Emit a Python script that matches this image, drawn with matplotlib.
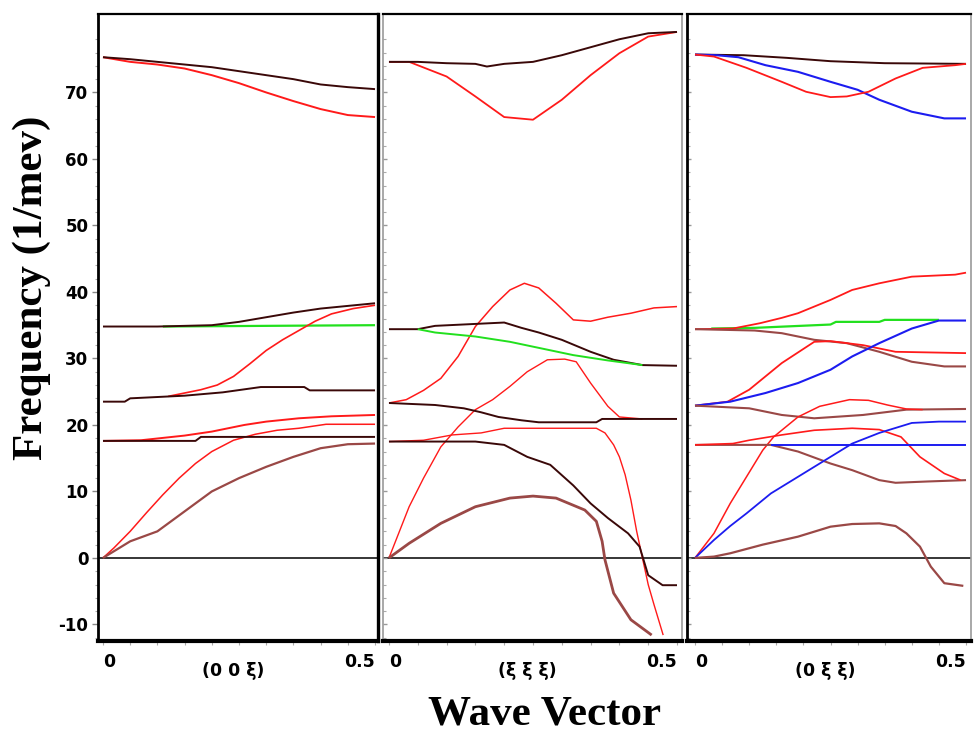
"""Phonon dispersion curves along three symmetry directions."""

import matplotlib

matplotlib.use("Agg")
import matplotlib.pyplot as plt
from matplotlib.transforms import blended_transform_factory

RED = "#ff1a1a"
DARK = "#3a0808"
BROWN = "#9a4846"
GREEN = "#22e01e"
BLUE = "#1c1cf0"

# ---- panel 1: (0 0 xi) ----
p1_top_dark_x = [0, 0.05, 0.1, 0.15, 0.2, 0.25, 0.3, 0.35, 0.4, 0.45, 0.5]
p1_top_dark_y = [75.3, 75.0, 74.6, 74.2, 73.8, 73.2, 72.6, 72.0, 71.2, 70.8, 70.5]
p1_top_red_x = [0, 0.05, 0.1, 0.15, 0.2, 0.25, 0.3, 0.35, 0.4, 0.45, 0.5]
p1_top_red_y = [75.3, 74.6, 74.2, 73.6, 72.6, 71.4, 70.0, 68.7, 67.5, 66.6, 66.3]
p1_green_x = [0.11, 0.3, 0.5]
p1_green_y = [34.8, 34.9, 35.0]
p1_dark35_x = [0, 0.1, 0.2, 0.25, 0.3, 0.35, 0.4, 0.45, 0.5]
p1_dark35_y = [34.8, 34.8, 35.0, 35.5, 36.2, 36.9, 37.5, 37.9, 38.3]
p1_red38_x = [0.12, 0.15, 0.18, 0.21, 0.24, 0.27, 0.3, 0.33, 0.36, 0.39, 0.42, 0.46, 0.5]
p1_red38_y = [24.3, 24.8, 25.3, 26.0, 27.3, 29.2, 31.2, 32.8, 34.2, 35.6, 36.7, 37.5, 38.0]
p1_dark25_x = [0, 0.04, 0.05, 0.15, 0.22, 0.29, 0.37, 0.38, 0.5]
p1_dark25_y = [23.5, 23.5, 24.0, 24.4, 24.9, 25.7, 25.7, 25.2, 25.2]
p1_red21_x = [0, 0.07, 0.15, 0.2, 0.26, 0.3, 0.36, 0.42, 0.5]
p1_red21_y = [17.6, 17.7, 18.4, 19.0, 20.0, 20.5, 21.0, 21.3, 21.5]
p1_red_ac_x = [0, 0.02, 0.05, 0.08, 0.11, 0.14, 0.17, 0.2, 0.24, 0.28, 0.32, 0.36, 0.41, 0.45, 0.5]
p1_red_ac_y = [0, 1.5, 4.0, 6.8, 9.5, 12.0, 14.2, 16.0, 17.7, 18.6, 19.2, 19.5, 20.1, 20.1, 20.1]
p1_dark18_x = [0, 0.17, 0.18, 0.5]
p1_dark18_y = [17.6, 17.6, 18.2, 18.2]
p1_brown_ac_x = [0, 0.05, 0.1, 0.15, 0.2, 0.25, 0.3, 0.35, 0.4, 0.45, 0.5]
p1_brown_ac_y = [0, 2.5, 4.0, 7.0, 10.0, 12.0, 13.7, 15.2, 16.5, 17.1, 17.2]

# ---- panel 2: (xi xi xi) ----
p2_top_dark_x = [0, 0.05, 0.1, 0.15, 0.17, 0.2, 0.25, 0.3, 0.35, 0.4, 0.45, 0.5]
p2_top_dark_y = [74.6, 74.6, 74.4, 74.3, 73.9, 74.3, 74.6, 75.6, 76.8, 78.0, 78.9, 79.1]
p2_top_red_x = [0, 0.035, 0.1, 0.15, 0.2, 0.25, 0.3, 0.35, 0.4, 0.45, 0.5]
p2_top_red_y = [74.6, 74.6, 72.4, 69.4, 66.3, 65.9, 68.9, 72.6, 75.9, 78.4, 79.1]
p2_red41_x = [0, 0.03, 0.06, 0.09, 0.12, 0.15, 0.18, 0.21, 0.235, 0.26, 0.29, 0.32, 0.35, 0.38, 0.42, 0.46, 0.5]
p2_red41_y = [23.3, 23.8, 25.2, 27.0, 30.3, 34.8, 37.8, 40.3, 41.3, 40.6, 38.3, 35.8, 35.6, 36.2, 36.8, 37.6, 37.8]
p2_dark34_x = [0, 0.05, 0.08, 0.2, 0.23, 0.26, 0.3, 0.35, 0.39, 0.44, 0.5]
p2_dark34_y = [34.4, 34.4, 34.9, 35.4, 34.6, 33.9, 32.8, 31.0, 29.8, 29.0, 28.9]
p2_green_x = [0.05, 0.08, 0.15, 0.21, 0.265, 0.32, 0.38, 0.44]
p2_green_y = [34.4, 33.9, 33.3, 32.5, 31.5, 30.5, 29.7, 29.0]
p2_red30_x = [0, 0.035, 0.06, 0.09, 0.12, 0.15, 0.18, 0.21, 0.24, 0.275, 0.305, 0.325, 0.35, 0.38, 0.40, 0.44]
p2_red30_y = [0, 7.7, 12.0, 16.7, 19.7, 22.3, 23.8, 25.8, 28.0, 29.8, 29.9, 29.5, 26.3, 22.8, 21.2, 20.9]
p2_red19_x = [0, 0.06, 0.11, 0.16, 0.2, 0.25, 0.3, 0.36, 0.375, 0.39, 0.40, 0.41, 0.42, 0.43, 0.44, 0.45, 0.46, 0.476]
p2_red19_y = [17.5, 17.7, 18.5, 18.8, 19.5, 19.5, 19.5, 19.5, 18.8, 17.0, 15.2, 12.5, 8.7, 4.0, 0, -4.0, -7.0, -11.6]
p2_dark21_x = [0, 0.08, 0.13, 0.16, 0.19, 0.23, 0.26, 0.36, 0.37, 0.5]
p2_dark21_y = [23.3, 23.0, 22.5, 21.9, 21.2, 20.7, 20.4, 20.4, 20.9, 20.9]
p2_brown17_x = [0, 0.15, 0.2, 0.24, 0.28, 0.32, 0.35, 0.38, 0.415, 0.435, 0.45, 0.475, 0.5]
p2_brown17_y = [17.5, 17.5, 17.0, 15.2, 14.0, 10.9, 8.2, 6.0, 3.7, 1.7, -2.6, -4.1, -4.1]
p2_brown_ac_x = [0, 0.035, 0.09, 0.15, 0.21, 0.25, 0.29, 0.34, 0.36, 0.37, 0.375, 0.39, 0.42, 0.456]
p2_brown_ac_y = [0, 2.2, 5.2, 7.7, 9.0, 9.3, 9.0, 7.2, 5.5, 2.5, -0.3, -5.3, -9.3, -11.6]

# ---- panel 3: (0 xi xi) ----
p3_top_dark_x = [0, 0.09, 0.17, 0.25, 0.35, 0.5]
p3_top_dark_y = [75.7, 75.6, 75.2, 74.7, 74.4, 74.3]
p3_top_blue_x = [0, 0.04, 0.08, 0.13, 0.19, 0.25, 0.3, 0.34, 0.4, 0.46, 0.5]
p3_top_blue_y = [75.7, 75.6, 75.3, 74.1, 73.1, 71.6, 70.4, 68.9, 67.1, 66.1, 66.1]
p3_top_red_x = [0, 0.035, 0.095, 0.16, 0.205, 0.25, 0.28, 0.32, 0.37, 0.42, 0.48, 0.5]
p3_top_red_y = [75.7, 75.4, 73.7, 71.6, 70.1, 69.3, 69.4, 70.1, 72.1, 73.7, 74.1, 74.3]
p3_red42_x = [0, 0.07, 0.12, 0.16, 0.19, 0.25, 0.29, 0.34, 0.4, 0.48, 0.5]
p3_red42_y = [34.4, 34.5, 35.3, 36.1, 36.8, 38.8, 40.3, 41.3, 42.3, 42.6, 42.9]
p3_green_x = [0.03, 0.11, 0.25, 0.26, 0.34, 0.35, 0.45]
p3_green_y = [34.5, 34.6, 35.1, 35.5, 35.5, 35.8, 35.8]
p3_blue35_x = [0, 0.065, 0.13, 0.19, 0.25, 0.29, 0.34, 0.4, 0.45, 0.5]
p3_blue35_y = [22.9, 23.5, 24.8, 26.3, 28.3, 30.3, 32.3, 34.5, 35.7, 35.7]
p3_red31_x = [0, 0.06, 0.1, 0.16, 0.22, 0.25, 0.31, 0.37, 0.5]
p3_red31_y = [22.9, 23.5, 25.3, 29.3, 32.5, 32.6, 32.0, 31.0, 30.8]
p3_brown29_x = [0, 0.11, 0.16, 0.22, 0.28, 0.34, 0.4, 0.46, 0.5]
p3_brown29_y = [34.4, 34.2, 33.8, 32.8, 32.3, 31.0, 29.5, 28.8, 28.8]
p3_brown22_x = [0, 0.1, 0.16, 0.22, 0.31, 0.39, 0.5]
p3_brown22_y = [22.9, 22.5, 21.5, 21.0, 21.5, 22.3, 22.4]
p3_red24_x = [0, 0.035, 0.065, 0.095, 0.125, 0.145, 0.19, 0.23, 0.285, 0.32, 0.355, 0.39, 0.42]
p3_red24_y = [0, 3.7, 8.2, 12.2, 16.2, 18.2, 21.2, 22.8, 23.8, 23.7, 23.0, 22.4, 22.3]
p3_red12_x = [0, 0.07, 0.1, 0.16, 0.22, 0.29, 0.34, 0.38, 0.415, 0.46, 0.49]
p3_red12_y = [17.0, 17.2, 17.7, 18.5, 19.2, 19.5, 19.3, 18.2, 15.2, 12.7, 11.7]
p3_blue17_x = [0.14, 0.5]
p3_blue17_y = [17.0, 17.0]
p3_brown12_x = [0, 0.14, 0.19, 0.25, 0.29, 0.34, 0.37, 0.43, 0.5]
p3_brown12_y = [17.0, 17.0, 16.0, 14.2, 13.2, 11.7, 11.3, 11.5, 11.7]
p3_blue_ac_x = [0, 0.035, 0.065, 0.095, 0.14, 0.19, 0.25, 0.29, 0.34, 0.4, 0.45, 0.5]
p3_blue_ac_y = [0, 2.7, 4.8, 6.7, 9.7, 12.2, 15.2, 17.2, 18.8, 20.3, 20.5, 20.5]
p3_brown_ac_x = [0, 0.035, 0.065, 0.125, 0.19, 0.25, 0.29, 0.34, 0.37, 0.39, 0.415, 0.435, 0.46, 0.495]
p3_brown_ac_y = [0, 0.2, 0.7, 2.0, 3.2, 4.7, 5.1, 5.2, 4.8, 3.7, 1.7, -1.3, -3.8, -4.2]

y_ticks = [-10, 0, 10, 20, 30, 40, 50, 60, 70]
direction_labels = ["(0 0 \u03be)", "(\u03be \u03be \u03be)", "(0 \u03be \u03be)"]

panel1_curves = [
    (p1_green_x, p1_green_y, GREEN, 1.6),
    (p1_top_red_x, p1_top_red_y, RED, 1.4),
    (p1_top_dark_x, p1_top_dark_y, DARK, 1.4),
    (p1_red38_x, p1_red38_y, RED, 1.2),
    (p1_dark35_x, p1_dark35_y, DARK, 1.4),
    (p1_dark25_x, p1_dark25_y, DARK, 1.4),
    (p1_red21_x, p1_red21_y, RED, 1.4),
    (p1_red_ac_x, p1_red_ac_y, RED, 1.1),
    (p1_dark18_x, p1_dark18_y, DARK, 1.4),
    (p1_brown_ac_x, p1_brown_ac_y, BROWN, 1.6),
]
panel2_curves = [
    (p2_top_red_x, p2_top_red_y, RED, 1.3),
    (p2_top_dark_x, p2_top_dark_y, DARK, 1.4),
    (p2_red41_x, p2_red41_y, RED, 1.1),
    (p2_dark34_x, p2_dark34_y, DARK, 1.4),
    (p2_green_x, p2_green_y, GREEN, 1.4),
    (p2_red30_x, p2_red30_y, RED, 1.0),
    (p2_dark21_x, p2_dark21_y, DARK, 1.4),
    (p2_red19_x, p2_red19_y, RED, 1.0),
    (p2_brown17_x, p2_brown17_y, DARK, 1.4),
    (p2_brown_ac_x, p2_brown_ac_y, BROWN, 2.0),
]
panel3_curves = [
    (p3_top_dark_x, p3_top_dark_y, DARK, 1.4),
    (p3_top_blue_x, p3_top_blue_y, BLUE, 1.5),
    (p3_top_red_x, p3_top_red_y, RED, 1.3),
    (p3_green_x, p3_green_y, GREEN, 1.6),
    (p3_red42_x, p3_red42_y, RED, 1.3),
    (p3_brown29_x, p3_brown29_y, BROWN, 1.5),
    (p3_red31_x, p3_red31_y, RED, 1.3),
    (p3_blue35_x, p3_blue35_y, BLUE, 1.5),
    (p3_brown22_x, p3_brown22_y, BROWN, 1.5),
    (p3_red24_x, p3_red24_y, RED, 1.1),
    (p3_brown12_x, p3_brown12_y, BROWN, 1.5),
    (p3_red12_x, p3_red12_y, RED, 1.2),
    (p3_blue17_x, p3_blue17_y, BLUE, 1.4),
    (p3_blue_ac_x, p3_blue_ac_y, BLUE, 1.3),
    (p3_brown_ac_x, p3_brown_ac_y, BROWN, 1.6),
]

fig = plt.figure(figsize=(9.75, 7.36), dpi=100)

bottom, height = 0.129, 0.852
panels = [
    # axes box (left, width), x limits, curves, border colours (left, right)
    ((0.1005, 0.2872), (-0.0092, 0.5055), panel1_curves, ("black", "black")),
    ((0.3928, 0.3067), (-0.0104, 0.5087), panel2_curves, ("#999999", "#999999")),
    ((0.7046, 0.2913), (-0.0148, 0.5092), panel3_curves, ("black", "#999999")),
]

for index, (box, xlim, curves, border) in enumerate(panels):
    ax = fig.add_axes([box[0], bottom, box[1], height])
    ax.axhline(0, color="black", linewidth=1.1, zorder=1)
    for xs, ys, color, width in curves:
        ax.plot(xs, ys, color=color, linewidth=width, solid_capstyle="butt", zorder=2)

    ax.set_xlim(*xlim)
    ax.set_ylim(-12.5, 81.8)

    ax.spines["top"].set_linewidth(1.6)
    ax.spines["bottom"].set_linewidth(3.0)
    ax.spines["left"].set_color(border[0])
    ax.spines["right"].set_color(border[1])
    ax.spines["left"].set_linewidth(2.0 if border[0] == "black" else 1.2)
    ax.spines["right"].set_linewidth(2.4 if border[1] == "black" else 1.2)

    ax.set_xticks([0.05 * k for k in range(11)])
    ax.set_xticklabels([])
    ax.tick_params(axis="x", direction="out", length=3, width=0.8, color="#aaaaaa")
    ax.set_yticks(y_ticks)
    ax.set_yticks(range(-12, 80, 2), minor=True)
    if index == 0:
        ax.set_yticklabels([str(t) for t in y_ticks], fontsize=12, fontweight="bold",
                           family=["Liberation Sans Narrow", "DejaVu Sans"])
        ax.tick_params(axis="y", direction="out", length=4, width=1, color="#888888", pad=3)
        ax.tick_params(axis="y", which="minor", direction="out", length=2, width=0.8,
                       color="#aaaaaa")
    else:
        ax.set_yticklabels([])
        ax.tick_params(axis="y", direction="in", length=3, width=1, color="#999999")
        ax.tick_params(axis="y", which="minor", direction="in", length=2, width=0.8,
                       color="#aaaaaa")

    trans = blended_transform_factory(ax.transData, fig.transFigure)
    label_font = dict(fontsize=12.5, fontweight="bold", family=["DejaVu Sans"])
    ax.text(0, 0.1005, "0", ha="left", va="center", transform=trans, **label_font)
    ax.text(0.5, 0.1005, "0.5", ha="right", va="center", transform=trans, **label_font)
    ax.text(0.24, 0.0885, direction_labels[index], ha="center", va="center",
            transform=trans, **label_font)

fig.text(0.558, 0.016, "Wave Vector", ha="center", va="baseline", fontsize=31,
         fontweight="bold", family=["Liberation Serif", "DejaVu Serif"])
fig.text(0.033, 0.609, "Frequency (1/mev)", ha="center", va="center", rotation=90,
         fontsize=31, fontweight="bold", family=["Liberation Serif", "DejaVu Serif"])

fig.savefig("out.png", dpi=100)
